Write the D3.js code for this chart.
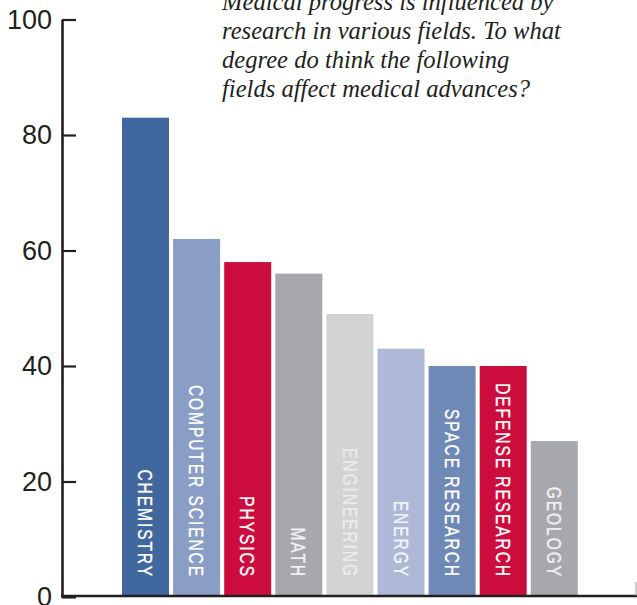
<!DOCTYPE html>
<html>
<head>
<meta charset="utf-8">
<script src="https://cdn.jsdelivr.net/npm/d3@7"></script>
<style>
  html, body { margin: 0; padding: 0; background: #fff; }
  svg { display: block; }
</style>
</head>
<body>
<svg id="chart" width="637" height="605"></svg>
<script>
// Fields and share of respondents who say each affects medical advances (%)
const categories = ["CHEMISTRY", "COMPUTER SCIENCE", "PHYSICS", "MATH", "ENGINEERING",
                    "ENERGY", "SPACE RESEARCH", "DEFENSE RESEARCH", "GEOLOGY"];
const values = [83, 62, 58, 56, 49, 43, 40, 40, 27];
const barColors = ["#41679f", "#8a9dc5", "#cc0c3d", "#a7a8ac", "#d2d3d5",
                   "#aeb9d8", "#6f89b6", "#cc0c3d", "#a7a8ac"];
const labelColors = ["#ffffff", "#ffffff", "#ffffff", "#f4f4f5", "#ececed",
                     "#f4f5fa", "#ffffff", "#ffffff", "#f2f2f3"];
const yTicks = [0, 20, 40, 60, 80, 100];
const questionLines = [
  "Medical progress is influenced by",
  "research in various fields. To what",
  "degree do think the following",
  "fields affect medical advances?"
];

const svg = d3.select("#chart");

const x = d3.scaleBand()
  .domain(categories)
  .range([122, 577.8])
  .paddingInner(0.08)
  .paddingOuter(0);

const y = d3.scaleLinear()
  .domain([0, 100])
  .range([597, 19.5]);

// Bars
svg.append("g")
  .selectAll("rect")
  .data(categories)
  .join("rect")
  .attr("x", d => x(d))
  .attr("y", (d, i) => y(values[i]))
  .attr("width", x.bandwidth())
  .attr("height", (d, i) => y(0) - y(values[i]))
  .attr("fill", (d, i) => barColors[i]);

// Rotated labels inside the bars, reading downward, ending near the base
svg.append("g")
  .selectAll("g")
  .data(categories)
  .join("g")
  .attr("transform", d => `translate(${x(d) + x.bandwidth() / 2},578) rotate(90) scale(0.74,1)`)
  .append("text")
  .attr("text-anchor", "end")
  .attr("dominant-baseline", "central")
  .attr("font-family", "'Liberation Sans', Arial, sans-serif")
  .attr("font-size", 21)
  .attr("letter-spacing", 2.6)
  .attr("fill", (d, i) => labelColors[i])
  .attr("stroke", (d, i) => labelColors[i])
  .attr("stroke-width", 0.35)
  .text(d => d);

// Value axis with ticks pointing into the plot
const yAxis = d3.axisLeft(y)
  .tickValues(yTicks)
  .tickSizeInner(-14)
  .tickSizeOuter(0)
  .tickPadding(10)
  .tickFormat(d3.format("d"));

const axisG = svg.append("g")
  .attr("transform", "translate(62,0)")
  .call(yAxis);

axisG.select(".domain")
  .attr("stroke", "#231f20")
  .attr("stroke-width", 2.6);
axisG.selectAll(".tick line")
  .attr("stroke", "#231f20")
  .attr("stroke-width", 2.2);
axisG.selectAll(".tick text")
  .attr("fill", "#231f20")
  .attr("font-family", "'Liberation Sans', Arial, sans-serif")
  .attr("font-size", 27);

// Base line
svg.append("line")
  .attr("x1", 61)
  .attr("x2", 637)
  .attr("y1", y(0) - 1)
  .attr("y2", y(0) - 1)
  .attr("stroke", "#231f20")
  .attr("stroke-width", 2.4);

// Small end tick at the right of the base line
svg.append("line")
  .attr("x1", 636)
  .attr("x2", 636)
  .attr("y1", y(0) - 15)
  .attr("y2", y(0) - 1)
  .attr("stroke", "#9a9a9a")
  .attr("stroke-width", 1);

// Survey question
svg.append("text")
  .attr("x", 222)
  .attr("font-family", "'Liberation Serif', 'Times New Roman', serif")
  .attr("font-style", "italic")
  .attr("font-size", 24.6)
  .attr("fill", "#231f20")
  .selectAll("tspan")
  .data(questionLines)
  .join("tspan")
  .attr("x", 222)
  .attr("y", (d, i) => 10 + i * 29)
  .text(d => d);
</script>
</body>
</html>
